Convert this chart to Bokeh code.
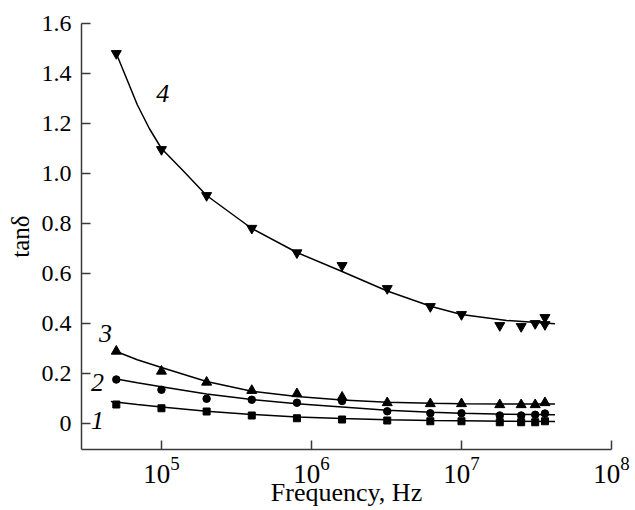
from bokeh.plotting import figure
from bokeh.models import Range1d, FixedTicker, CustomJSTickFormatter
from bokeh.core.properties import value
from bokeh.embed import file_html
from bokeh.resources import INLINE

# ---- measured data ----
freq = [5e4, 1e5, 2e5, 4e5, 8e5, 1.6e6, 3.2e6, 6.2e6, 1e7, 1.8e7, 2.5e7, 3.1e7, 3.6e7]
tan1 = [0.076, 0.061, 0.048, 0.032, 0.021, 0.016, 0.012, 0.009, 0.009, 0.005, 0.005, 0.005, 0.009]
tan2 = [0.176, 0.135, 0.099, 0.095, 0.083, 0.090, 0.049, 0.041, 0.041, 0.032, 0.032, 0.035, 0.040]
tan3 = [0.289, 0.209, 0.165, 0.132, 0.119, 0.105, 0.083, 0.079, 0.079, 0.075, 0.075, 0.075, 0.083]
freq4 = [5e4, 1e5, 2e5, 4e5, 8e5, 1.6e6, 3.2e6, 6.2e6, 1e7, 1.8e7, 2.5e7, 3.1e7, 3.6e7, 3.6e7]
tan4 = [1.48, 1.096, 0.912, 0.781, 0.683, 0.632, 0.540, 0.468, 0.436, 0.392, 0.388, 0.400, 0.424, 0.396]

# ---- fitted curves ----
fit4_freq = [5e4, 5.9e4, 6.9e4, 8.3e4, 1e5, 1.4e5, 2e5, 4e5, 8e5, 1.6e6, 3.2e6, 6.3e6, 1e7, 2e7, 4.2e7]
fit4 = [1.48, 1.375, 1.275, 1.18, 1.10, 1.01, 0.912, 0.78, 0.684, 0.608, 0.53, 0.468, 0.436, 0.412, 0.399]
fit_freq = [5e4, 6.9e4, 1e5, 2e5, 4e5, 8e5, 1.6e6, 3.2e6, 6.3e6, 1e7, 2e7, 4.2e7]
fit3 = [0.288, 0.255, 0.224, 0.168, 0.129, 0.108, 0.094, 0.085, 0.081, 0.079, 0.078, 0.078]
fit2 = [0.178, 0.163, 0.147, 0.118, 0.096, 0.079, 0.066, 0.053, 0.045, 0.041, 0.037, 0.035]
fit1_freq = [4.6e4, 6.9e4, 1e5, 2e5, 4e5, 8e5, 1.6e6, 3.2e6, 6.3e6, 1e7, 2e7, 4.2e7]
fit1 = [0.088, 0.076, 0.066, 0.049, 0.036, 0.026, 0.020, 0.015, 0.012, 0.011, 0.009, 0.008]

# ---- curve labels ----
label_text = ["1", "2", "3", "4"]
label_x = [3.74e4, 3.74e4, 4.23e4, 1.02e5]
label_y = [0.012, 0.164, 0.36, 1.32]

y_ticks = [0, 0.2, 0.4, 0.6, 0.8, 1.0, 1.2, 1.4, 1.6]
x_ticks = [1e5, 1e6, 1e7, 1e8]

SERIF = "Liberation Serif"
AX = "#3a3a3a"

p = figure(width=635, height=510, x_axis_type="log",
           x_range=Range1d(10 ** 4.467, 1e8), y_range=Range1d(-0.104, 1.6),
           output_backend="svg", toolbar_location=None,
           min_border_left=81, min_border_right=24, min_border_top=23, min_border_bottom=61)

p.outline_line_color = None
p.xgrid.visible = False
p.ygrid.visible = False
p.background_fill_color = "white"

for ax in (p.xaxis[0], p.yaxis[0]):
    ax.axis_line_width = 1.5
    ax.axis_line_color = AX
    ax.major_tick_line_color = AX
    ax.major_tick_line_width = 1.5
    ax.major_tick_in = 9
    ax.major_tick_out = 0
    ax.minor_tick_in = 0
    ax.minor_tick_out = 0
    ax.major_label_text_color = "black"
    ax.major_label_text_font = SERIF
    ax.axis_label_text_font = SERIF
    ax.axis_label_text_font_style = "normal"
    ax.axis_label_text_color = "black"

p.yaxis.axis_label_text_font_size = "25px"
p.xaxis.axis_label_text_font_size = "26px"
p.yaxis.major_label_text_font_size = "24px"
p.xaxis.major_label_text_font_size = "27px"
p.xaxis.ticker = FixedTicker(ticks=x_ticks, minor_ticks=[])
p.yaxis.ticker = FixedTicker(ticks=y_ticks, minor_ticks=[])
p.yaxis.formatter = CustomJSTickFormatter(code="return tick == 0 ? '0' : tick.toFixed(1);")
p.xaxis.axis_label = "Frequency, Hz"
p.yaxis.axis_label = "tanδ"
p.yaxis.major_label_standoff = 10
p.xaxis.major_label_standoff = 7
p.xaxis.axis_label_standoff = -8
p.yaxis.axis_label_standoff = 5

lw = 1.5
p.line(fit4_freq, fit4, line_color="black", line_width=lw)
p.line(fit_freq, fit3, line_color="black", line_width=lw)
p.line(fit_freq, fit2, line_color="black", line_width=lw)
p.line(fit1_freq, fit1, line_color="black", line_width=lw)

p.scatter(freq, tan1, marker="square", size=7, color="black")
p.scatter(freq, tan2, marker="circle", size=7.5, color="black")
p.scatter(freq, tan3, marker="triangle", size=10, color="black")
p.scatter(freq4, tan4, marker="inverted_triangle", size=10, color="black")

p.text(label_x, label_y, text=label_text, text_font=value(SERIF),
       text_font_style="italic", text_font_size="26px", text_color="black",
       text_align="center", text_baseline="middle")

open("out.html", "w").write(file_html(p, INLINE))
